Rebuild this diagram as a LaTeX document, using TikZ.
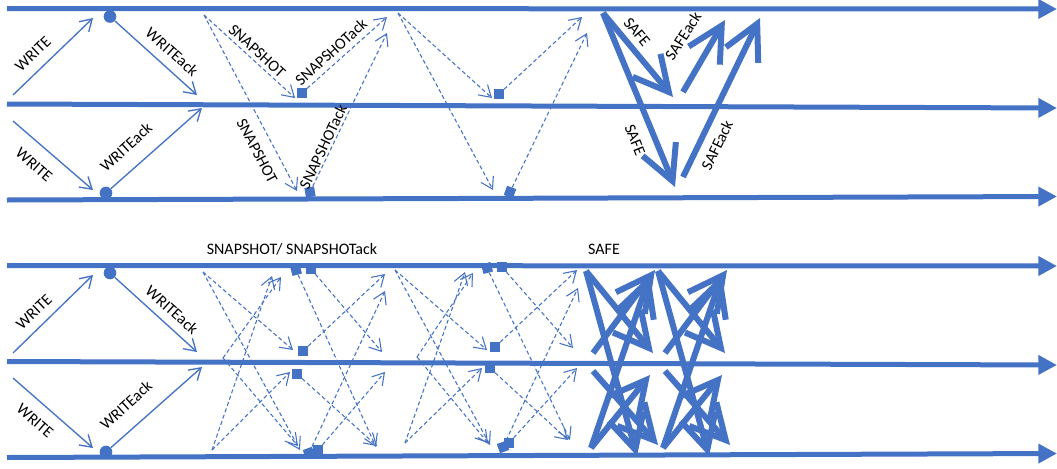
\documentclass[tikz,border=0pt]{standalone}
\usepackage{fontspec}
\setmainfont{Carlito}
\usetikzlibrary{arrows.meta}
\definecolor{lineblue}{RGB}{68,114,196}

\begin{document}
\begin{tikzpicture}[x=0.75pt, y=-0.75pt,
  proc/.style={line width=3.75pt, draw=lineblue, -{Triangle[length=14pt,width=14pt]}},
  msg/.style={line width=1pt, draw=lineblue, -{Straight Barb[length=8.5pt,width=10.5pt]}},
  snap/.style={msg, line width=0.8pt, dash pattern=on 3pt off 2pt},
  safe/.style={line width=4.5pt, draw=lineblue, -{Straight Barb[length=26pt,width=27pt]}},
  dot/.style={circle, fill=lineblue, inner sep=0pt, minimum size=9.5pt},
  recv/.style={rectangle, fill=lineblue, inner sep=0pt, minimum size=7.3pt},
  lbl/.style={font=\fontsize{12}{14}\selectfont, inner sep=0pt}]

\useasboundingbox (0,0) rectangle (1057,468);

% the six process lines
\coordinate (l1a) at (7,8.5);   \coordinate (l1b) at (1057,9);
\coordinate (l2a) at (7,104);   \coordinate (l2b) at (1057,108);
\coordinate (l3a) at (7,200);   \coordinate (l3b) at (1057,196.5);
\coordinate (l4a) at (7,265.5); \coordinate (l4b) at (1057,266);
\coordinate (l5a) at (7,361.5); \coordinate (l5b) at (1057,365);
\coordinate (l6a) at (7,457.5); \coordinate (l6b) at (1057,453.5);
\draw[proc] (l1a) -- (l1b);
\draw[proc] (l2a) -- (l2b);
\draw[proc] (l3a) -- (l3b);
\draw[proc] (l4a) -- (l4b);
\draw[proc] (l5a) -- (l5b);
\draw[proc] (l6a) -- (l6b);

% top: write
\node[dot] (tc1) at (110,16.5) {};
\node[dot] (tc2) at (106,193) {};
\coordinate (tw1a) at (13,95);  \coordinate (tw1b) at (93,18);
\coordinate (tk1b) at (197,95);
\coordinate (tw2a) at (13,121); \coordinate (tw2b) at (93,190);
\coordinate (tk2b) at (202,108);
\draw[msg] (tw1a) -- (tw1b);
\draw[msg] (tc1) -- (tk1b);
\draw[msg] (tw2a) -- (tw2b);
\draw[msg] (tc2) -- (tk2b);
\node[lbl, rotate=43.8] (tlw1) at (33,54) {WRITE};
\node[lbl, rotate=-41.7] (tlk1) at (172,52) {WRITEack};
\node[lbl, rotate=-40.8] (tlw2) at (34,165) {WRITE};
\node[lbl, rotate=42.3] (tlk2) at (126,147) {WRITEack};

% top: snapshot, two rounds
\coordinate (ts1) at (204,15);
\coordinate (tr1) at (295,98);  \coordinate (tr2) at (297,191);
\node[recv] (tq1) at (302,93) {};
\node[recv, rotate=10] (tq2) at (310,192) {};
\coordinate (tt1) at (387,17);  \coordinate (tt2) at (387,33);
\draw[snap] (ts1) -- (tr1);
\draw[snap] (ts1) -- (tr2);
\draw[snap] (tq1) -- (tt1);
\draw[snap] (tq2) -- (tt2);
\node[lbl, rotate=-42.4] (tls1) at (257,51) {SNAPSHOT};
\node[lbl, rotate=42.3] (tla1) at (331,52) {SNAPSHOTack};
\node[lbl, rotate=-62.4] (tls2) at (257,151) {SNAPSHOT};
\node[lbl, rotate=64.5] (tla2) at (323,147) {SNAPSHOTack};

\coordinate (ts2) at (398,13);
\coordinate (tr3) at (492,98);  \coordinate (tr4) at (493,190);
\node[recv] (tq3) at (499,94) {};
\node[recv, rotate=-20] (tq4) at (510,192) {};
\coordinate (tt3) at (582,17);  \coordinate (tt4) at (587,33);
\draw[snap] (ts2) -- (tr3);
\draw[snap] (ts2) -- (tr4);
\draw[snap] (tq3) -- (tt3);
\draw[snap] (tq4) -- (tt4);

% top: safe
\coordinate (tf) at (603,13);
\coordinate (tg1) at (673,97);  \coordinate (tg2) at (675,187);
\coordinate (th1a) at (683,92); \coordinate (th1b) at (725,20);
\coordinate (th2a) at (683,177); \coordinate (th2b) at (760,18);
\draw[safe] (tf) -- (tg1);
\draw[safe] (tf) -- (tg2);
\draw[safe] (th1a) -- (th1b);
\draw[safe] (th2a) -- (th2b);
\node[lbl, rotate=-50.2] (tlf1) at (637,32) {SAFE};
\node[lbl, rotate=57] (tlh1) at (683,36) {SAFEack};
\node[lbl, rotate=-68] (tlf2) at (635,140) {SAFE};
\node[lbl, rotate=64.2] (tlh2) at (717,145) {SAFEack};

% bottom: write
\node[dot] (bc1) at (110,273) {};
\node[dot] (bc2) at (106,452) {};
\coordinate (bw1a) at (13,353); \coordinate (bw1b) at (93,275);
\coordinate (bk1b) at (197,352);
\coordinate (bw2a) at (13,378); \coordinate (bw2b) at (93,448);
\coordinate (bk2b) at (202,367);
\draw[msg] (bw1a) -- (bw1b);
\draw[msg] (bc1) -- (bk1b);
\draw[msg] (bw2a) -- (bw2b);
\draw[msg] (bc2) -- (bk2b);
\node[lbl, rotate=43.8] (blw1) at (34,312) {WRITE};
\node[lbl, rotate=-41.7] (blk1) at (172,310) {WRITEack};
\node[lbl, rotate=-40.8] (blw2) at (35,421) {WRITE};
\node[lbl, rotate=42.3] (blk2) at (126,405) {WRITEack};

\node[lbl] (bls) at (292,249.5) {SNAPSHOT/ SNAPSHOTack};
\node[lbl] (blf) at (604,249.5) {SAFE};

% bottom: snapshot round 1
\coordinate (bs1) at (203,272); \coordinate (bs2) at (223,358); \coordinate (bs3) at (212,450);
\coordinate (br1) at (293,350); \coordinate (br2) at (300,450);
\coordinate (br3) at (281,277); \coordinate (br4) at (298,446);
\coordinate (br5) at (272,276); \coordinate (br6) at (290,372);
\node[recv, rotate=15] (bq1) at (296,270) {};
\node[recv] (bq2) at (311,269) {};
\node[recv] (bq3) at (303,351) {};
\node[recv] (bq4) at (297,374) {};
\node[recv, rotate=20] (bq5) at (309,453) {};
\node[recv] (bq6) at (318,450) {};
\coordinate (bt1) at (382,352); \coordinate (bt2) at (376,447);
\coordinate (bt3) at (385,274); \coordinate (bt4) at (377,446);
\coordinate (bt5) at (385,372); \coordinate (bt6) at (385,291);
\draw[snap] (bs1) -- (br1);
\draw[snap] (bs1) -- (br2);
\draw[snap] (bs2) -- (br3);
\draw[snap] (bs2) -- (br4);
\draw[snap] (bs3) -- (br5);
\draw[snap] (bs3) -- (br6);
\draw[snap] (bq2) -- (bt1);
\draw[snap] (bq1) -- (bt2);
\draw[snap] (bq3) -- (bt3);
\draw[snap] (bq4) -- (bt4);
\draw[snap] (bq6) -- (bt5);
\draw[snap] (bq5) -- (bt6);

% bottom: snapshot round 2
\coordinate (bs4) at (395,270); \coordinate (bs5) at (417,357); \coordinate (bs6) at (405,443);
\coordinate (br7) at (487,350);  \coordinate (br8) at (490,445);
\coordinate (br9) at (473,273);  \coordinate (br10) at (488,443);
\coordinate (br11) at (465,272); \coordinate (br12) at (482,368);
\node[recv, rotate=15] (bq7) at (487,268) {};
\node[recv] (bq8) at (502,267) {};
\node[recv] (bq9) at (495,347) {};
\node[recv] (bq10) at (490,368) {};
\node[recv, rotate=20] (bq11) at (503,447) {};
\node[recv] (bq12) at (509,443) {};
\coordinate (bt7) at (573,348);  \coordinate (bt8) at (570,440);
\coordinate (bt9) at (577,270);  \coordinate (bt10) at (568,440);
\coordinate (bt11) at (577,368); \coordinate (bt12) at (578,288);
\draw[snap] (bs4) -- (br7);
\draw[snap] (bs4) -- (br8);
\draw[snap] (bs5) -- (br9);
\draw[snap] (bs5) -- (br10);
\draw[snap] (bs6) -- (br11);
\draw[snap] (bs6) -- (br12);
\draw[snap] (bq8) -- (bt7);
\draw[snap] (bq7) -- (bt8);
\draw[snap] (bq9) -- (bt9);
\draw[snap] (bq10) -- (bt10);
\draw[snap] (bq12) -- (bt11);
\draw[snap] (bq11) -- (bt12);

% bottom: safe, sent and acknowledged
\coordinate (bf1) at (586,271); \coordinate (bf2) at (593,353);
\coordinate (bf3) at (593,371); \coordinate (bf4) at (591,448);
\coordinate (bg1) at (653,353); \coordinate (bg2) at (637,456);
\coordinate (bg3) at (655,270); \coordinate (bg4) at (658,445);
\coordinate (bg5) at (650,275); \coordinate (bg6) at (650,375);
\draw[safe] (bf1) -- (bg1);
\draw[safe] (bf1) -- (bg2);
\draw[safe] (bf2) -- (bg3);
\draw[safe] (bf3) -- (bg4);
\draw[safe] (bf4) -- (bg5);
\draw[safe] (bf4) -- (bg6);

\coordinate (bh1) at (658,271); \coordinate (bh2) at (665,353);
\coordinate (bh3) at (665,371); \coordinate (bh4) at (663,448);
\coordinate (bi1) at (725,353); \coordinate (bi2) at (709,456);
\coordinate (bi3) at (727,270); \coordinate (bi4) at (730,445);
\coordinate (bi5) at (722,275); \coordinate (bi6) at (722,375);
\draw[safe] (bh1) -- (bi1);
\draw[safe] (bh1) -- (bi2);
\draw[safe] (bh2) -- (bi3);
\draw[safe] (bh3) -- (bi4);
\draw[safe] (bh4) -- (bi5);
\draw[safe] (bh4) -- (bi6);
\end{tikzpicture}
\end{document}
